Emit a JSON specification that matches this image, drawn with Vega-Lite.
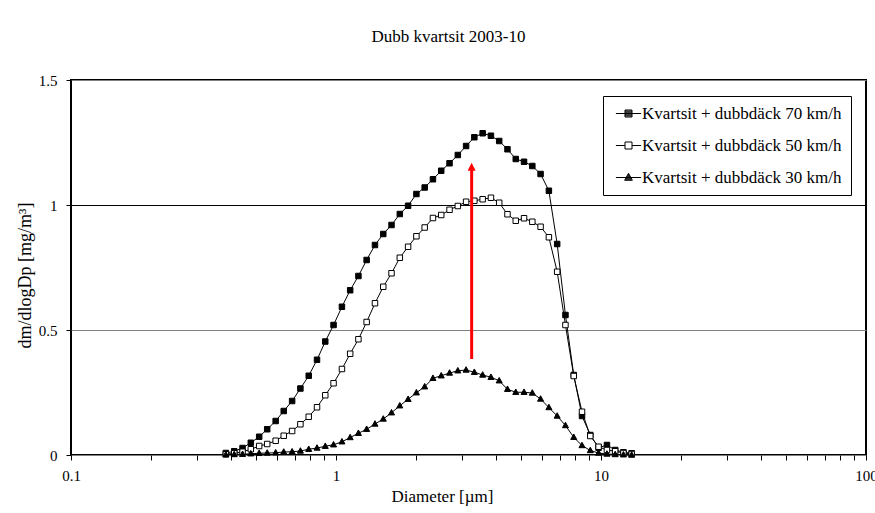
{
  "$schema": "https://vega.github.io/schema/vega-lite/v6.json",
  "width": 795,
  "height": 375,
  "autosize": {"type": "none"},
  "padding": {"left": 71, "top": 80, "right": 9, "bottom": 58},
  "background": "white",
  "title": {"text": "Dubb kvartsit 2003-10", "font": "Liberation Serif", "fontSize": 17, "fontWeight": "normal", "color": "#000", "offset": 27, "dx": -20},
  "config": {"view": {"stroke": "#000", "strokeWidth": 2}, "font": "Liberation Serif"},
  "datasets": {
    "curves": [
      {"d":0.384,"s":"Kvartsit + dubbdäck 70 km/h","v":0.008},
      {"d":0.413,"s":"Kvartsit + dubbdäck 70 km/h","v":0.015},
      {"d":0.444,"s":"Kvartsit + dubbdäck 70 km/h","v":0.028},
      {"d":0.477,"s":"Kvartsit + dubbdäck 70 km/h","v":0.049},
      {"d":0.513,"s":"Kvartsit + dubbdäck 70 km/h","v":0.073},
      {"d":0.550,"s":"Kvartsit + dubbdäck 70 km/h","v":0.103},
      {"d":0.592,"s":"Kvartsit + dubbdäck 70 km/h","v":0.136},
      {"d":0.635,"s":"Kvartsit + dubbdäck 70 km/h","v":0.176},
      {"d":0.683,"s":"Kvartsit + dubbdäck 70 km/h","v":0.216},
      {"d":0.734,"s":"Kvartsit + dubbdäck 70 km/h","v":0.266},
      {"d":0.789,"s":"Kvartsit + dubbdäck 70 km/h","v":0.317},
      {"d":0.848,"s":"Kvartsit + dubbdäck 70 km/h","v":0.381},
      {"d":0.911,"s":"Kvartsit + dubbdäck 70 km/h","v":0.454},
      {"d":0.979,"s":"Kvartsit + dubbdäck 70 km/h","v":0.520},
      {"d":1.053,"s":"Kvartsit + dubbdäck 70 km/h","v":0.593},
      {"d":1.131,"s":"Kvartsit + dubbdäck 70 km/h","v":0.659},
      {"d":1.215,"s":"Kvartsit + dubbdäck 70 km/h","v":0.716},
      {"d":1.305,"s":"Kvartsit + dubbdäck 70 km/h","v":0.780},
      {"d":1.403,"s":"Kvartsit + dubbdäck 70 km/h","v":0.840},
      {"d":1.508,"s":"Kvartsit + dubbdäck 70 km/h","v":0.884},
      {"d":1.620,"s":"Kvartsit + dubbdäck 70 km/h","v":0.920},
      {"d":1.741,"s":"Kvartsit + dubbdäck 70 km/h","v":0.964},
      {"d":1.871,"s":"Kvartsit + dubbdäck 70 km/h","v":0.997},
      {"d":2.011,"s":"Kvartsit + dubbdäck 70 km/h","v":1.044},
      {"d":2.161,"s":"Kvartsit + dubbdäck 70 km/h","v":1.070},
      {"d":2.322,"s":"Kvartsit + dubbdäck 70 km/h","v":1.103},
      {"d":2.495,"s":"Kvartsit + dubbdäck 70 km/h","v":1.137},
      {"d":2.682,"s":"Kvartsit + dubbdäck 70 km/h","v":1.167},
      {"d":2.882,"s":"Kvartsit + dubbdäck 70 km/h","v":1.200},
      {"d":3.097,"s":"Kvartsit + dubbdäck 70 km/h","v":1.236},
      {"d":3.327,"s":"Kvartsit + dubbdäck 70 km/h","v":1.271},
      {"d":3.576,"s":"Kvartsit + dubbdäck 70 km/h","v":1.287},
      {"d":3.843,"s":"Kvartsit + dubbdäck 70 km/h","v":1.277},
      {"d":4.129,"s":"Kvartsit + dubbdäck 70 km/h","v":1.256},
      {"d":4.437,"s":"Kvartsit + dubbdäck 70 km/h","v":1.223},
      {"d":4.768,"s":"Kvartsit + dubbdäck 70 km/h","v":1.184},
      {"d":5.124,"s":"Kvartsit + dubbdäck 70 km/h","v":1.173},
      {"d":5.506,"s":"Kvartsit + dubbdäck 70 km/h","v":1.156},
      {"d":5.916,"s":"Kvartsit + dubbdäck 70 km/h","v":1.124},
      {"d":6.358,"s":"Kvartsit + dubbdäck 70 km/h","v":1.057},
      {"d":6.833,"s":"Kvartsit + dubbdäck 70 km/h","v":0.844},
      {"d":7.343,"s":"Kvartsit + dubbdäck 70 km/h","v":0.560},
      {"d":7.891,"s":"Kvartsit + dubbdäck 70 km/h","v":0.320},
      {"d":8.479,"s":"Kvartsit + dubbdäck 70 km/h","v":0.156},
      {"d":9.112,"s":"Kvartsit + dubbdäck 70 km/h","v":0.080},
      {"d":9.792,"s":"Kvartsit + dubbdäck 70 km/h","v":0.029},
      {"d":10.53,"s":"Kvartsit + dubbdäck 70 km/h","v":0.040},
      {"d":11.31,"s":"Kvartsit + dubbdäck 70 km/h","v":0.020},
      {"d":12.15,"s":"Kvartsit + dubbdäck 70 km/h","v":0.011},
      {"d":13.05,"s":"Kvartsit + dubbdäck 70 km/h","v":0.007},
      {"d":0.384,"s":"Kvartsit + dubbdäck 50 km/h","v":0.003},
      {"d":0.413,"s":"Kvartsit + dubbdäck 50 km/h","v":0.007},
      {"d":0.444,"s":"Kvartsit + dubbdäck 50 km/h","v":0.013},
      {"d":0.477,"s":"Kvartsit + dubbdäck 50 km/h","v":0.023},
      {"d":0.513,"s":"Kvartsit + dubbdäck 50 km/h","v":0.036},
      {"d":0.550,"s":"Kvartsit + dubbdäck 50 km/h","v":0.044},
      {"d":0.592,"s":"Kvartsit + dubbdäck 50 km/h","v":0.057},
      {"d":0.635,"s":"Kvartsit + dubbdäck 50 km/h","v":0.077},
      {"d":0.683,"s":"Kvartsit + dubbdäck 50 km/h","v":0.096},
      {"d":0.734,"s":"Kvartsit + dubbdäck 50 km/h","v":0.123},
      {"d":0.789,"s":"Kvartsit + dubbdäck 50 km/h","v":0.153},
      {"d":0.848,"s":"Kvartsit + dubbdäck 50 km/h","v":0.191},
      {"d":0.911,"s":"Kvartsit + dubbdäck 50 km/h","v":0.239},
      {"d":0.979,"s":"Kvartsit + dubbdäck 50 km/h","v":0.287},
      {"d":1.053,"s":"Kvartsit + dubbdäck 50 km/h","v":0.344},
      {"d":1.131,"s":"Kvartsit + dubbdäck 50 km/h","v":0.405},
      {"d":1.215,"s":"Kvartsit + dubbdäck 50 km/h","v":0.463},
      {"d":1.305,"s":"Kvartsit + dubbdäck 50 km/h","v":0.532},
      {"d":1.403,"s":"Kvartsit + dubbdäck 50 km/h","v":0.607},
      {"d":1.508,"s":"Kvartsit + dubbdäck 50 km/h","v":0.673},
      {"d":1.620,"s":"Kvartsit + dubbdäck 50 km/h","v":0.727},
      {"d":1.741,"s":"Kvartsit + dubbdäck 50 km/h","v":0.789},
      {"d":1.871,"s":"Kvartsit + dubbdäck 50 km/h","v":0.833},
      {"d":2.011,"s":"Kvartsit + dubbdäck 50 km/h","v":0.875},
      {"d":2.161,"s":"Kvartsit + dubbdäck 50 km/h","v":0.910},
      {"d":2.322,"s":"Kvartsit + dubbdäck 50 km/h","v":0.948},
      {"d":2.495,"s":"Kvartsit + dubbdäck 50 km/h","v":0.960},
      {"d":2.682,"s":"Kvartsit + dubbdäck 50 km/h","v":0.981},
      {"d":2.882,"s":"Kvartsit + dubbdäck 50 km/h","v":0.996},
      {"d":3.097,"s":"Kvartsit + dubbdäck 50 km/h","v":1.013},
      {"d":3.327,"s":"Kvartsit + dubbdäck 50 km/h","v":1.017},
      {"d":3.576,"s":"Kvartsit + dubbdäck 50 km/h","v":1.023},
      {"d":3.843,"s":"Kvartsit + dubbdäck 50 km/h","v":1.029},
      {"d":4.129,"s":"Kvartsit + dubbdäck 50 km/h","v":1.009},
      {"d":4.437,"s":"Kvartsit + dubbdäck 50 km/h","v":0.963},
      {"d":4.768,"s":"Kvartsit + dubbdäck 50 km/h","v":0.937},
      {"d":5.124,"s":"Kvartsit + dubbdäck 50 km/h","v":0.947},
      {"d":5.506,"s":"Kvartsit + dubbdäck 50 km/h","v":0.933},
      {"d":5.916,"s":"Kvartsit + dubbdäck 50 km/h","v":0.913},
      {"d":6.358,"s":"Kvartsit + dubbdäck 50 km/h","v":0.871},
      {"d":6.833,"s":"Kvartsit + dubbdäck 50 km/h","v":0.733},
      {"d":7.343,"s":"Kvartsit + dubbdäck 50 km/h","v":0.520},
      {"d":7.891,"s":"Kvartsit + dubbdäck 50 km/h","v":0.316},
      {"d":8.479,"s":"Kvartsit + dubbdäck 50 km/h","v":0.173},
      {"d":9.112,"s":"Kvartsit + dubbdäck 50 km/h","v":0.076},
      {"d":9.792,"s":"Kvartsit + dubbdäck 50 km/h","v":0.033},
      {"d":10.53,"s":"Kvartsit + dubbdäck 50 km/h","v":0.020},
      {"d":11.31,"s":"Kvartsit + dubbdäck 50 km/h","v":0.015},
      {"d":12.15,"s":"Kvartsit + dubbdäck 50 km/h","v":0.008},
      {"d":13.05,"s":"Kvartsit + dubbdäck 50 km/h","v":0.004},
      {"d":0.384,"s":"Kvartsit + dubbdäck 30 km/h","v":0.001},
      {"d":0.413,"s":"Kvartsit + dubbdäck 30 km/h","v":0.002},
      {"d":0.444,"s":"Kvartsit + dubbdäck 30 km/h","v":0.003},
      {"d":0.477,"s":"Kvartsit + dubbdäck 30 km/h","v":0.005},
      {"d":0.513,"s":"Kvartsit + dubbdäck 30 km/h","v":0.007},
      {"d":0.550,"s":"Kvartsit + dubbdäck 30 km/h","v":0.008},
      {"d":0.592,"s":"Kvartsit + dubbdäck 30 km/h","v":0.009},
      {"d":0.635,"s":"Kvartsit + dubbdäck 30 km/h","v":0.012},
      {"d":0.683,"s":"Kvartsit + dubbdäck 30 km/h","v":0.013},
      {"d":0.734,"s":"Kvartsit + dubbdäck 30 km/h","v":0.016},
      {"d":0.789,"s":"Kvartsit + dubbdäck 30 km/h","v":0.023},
      {"d":0.848,"s":"Kvartsit + dubbdäck 30 km/h","v":0.028},
      {"d":0.911,"s":"Kvartsit + dubbdäck 30 km/h","v":0.035},
      {"d":0.979,"s":"Kvartsit + dubbdäck 30 km/h","v":0.041},
      {"d":1.053,"s":"Kvartsit + dubbdäck 30 km/h","v":0.053},
      {"d":1.131,"s":"Kvartsit + dubbdäck 30 km/h","v":0.070},
      {"d":1.215,"s":"Kvartsit + dubbdäck 30 km/h","v":0.087},
      {"d":1.305,"s":"Kvartsit + dubbdäck 30 km/h","v":0.103},
      {"d":1.403,"s":"Kvartsit + dubbdäck 30 km/h","v":0.124},
      {"d":1.508,"s":"Kvartsit + dubbdäck 30 km/h","v":0.144},
      {"d":1.620,"s":"Kvartsit + dubbdäck 30 km/h","v":0.169},
      {"d":1.741,"s":"Kvartsit + dubbdäck 30 km/h","v":0.197},
      {"d":1.871,"s":"Kvartsit + dubbdäck 30 km/h","v":0.223},
      {"d":2.011,"s":"Kvartsit + dubbdäck 30 km/h","v":0.249},
      {"d":2.161,"s":"Kvartsit + dubbdäck 30 km/h","v":0.273},
      {"d":2.322,"s":"Kvartsit + dubbdäck 30 km/h","v":0.307},
      {"d":2.495,"s":"Kvartsit + dubbdäck 30 km/h","v":0.317},
      {"d":2.682,"s":"Kvartsit + dubbdäck 30 km/h","v":0.328},
      {"d":2.882,"s":"Kvartsit + dubbdäck 30 km/h","v":0.337},
      {"d":3.097,"s":"Kvartsit + dubbdäck 30 km/h","v":0.340},
      {"d":3.327,"s":"Kvartsit + dubbdäck 30 km/h","v":0.331},
      {"d":3.576,"s":"Kvartsit + dubbdäck 30 km/h","v":0.320},
      {"d":3.843,"s":"Kvartsit + dubbdäck 30 km/h","v":0.311},
      {"d":4.129,"s":"Kvartsit + dubbdäck 30 km/h","v":0.297},
      {"d":4.437,"s":"Kvartsit + dubbdäck 30 km/h","v":0.263},
      {"d":4.768,"s":"Kvartsit + dubbdäck 30 km/h","v":0.251},
      {"d":5.124,"s":"Kvartsit + dubbdäck 30 km/h","v":0.251},
      {"d":5.506,"s":"Kvartsit + dubbdäck 30 km/h","v":0.248},
      {"d":5.916,"s":"Kvartsit + dubbdäck 30 km/h","v":0.224},
      {"d":6.358,"s":"Kvartsit + dubbdäck 30 km/h","v":0.190},
      {"d":6.833,"s":"Kvartsit + dubbdäck 30 km/h","v":0.156},
      {"d":7.343,"s":"Kvartsit + dubbdäck 30 km/h","v":0.118},
      {"d":7.891,"s":"Kvartsit + dubbdäck 30 km/h","v":0.071},
      {"d":8.479,"s":"Kvartsit + dubbdäck 30 km/h","v":0.038},
      {"d":9.112,"s":"Kvartsit + dubbdäck 30 km/h","v":0.018},
      {"d":9.792,"s":"Kvartsit + dubbdäck 30 km/h","v":0.008},
      {"d":10.53,"s":"Kvartsit + dubbdäck 30 km/h","v":0.004},
      {"d":11.31,"s":"Kvartsit + dubbdäck 30 km/h","v":0.002},
      {"d":12.15,"s":"Kvartsit + dubbdäck 30 km/h","v":0.001},
      {"d":13.05,"s":"Kvartsit + dubbdäck 30 km/h","v":0.000}
    ],
    "arrow": [{"d": 3.25, "v": 0.384, "v2": 1.14}],
    "head": [{"d": 3.25, "v": 1.153}]
  },
  "encoding": {
    "x": {
      "field": "d", "type": "quantitative",
      "scale": {"type": "log", "domain": [0.1, 100], "nice": false},
      "axis": {
        "title": "Diameter [µm]",
        "values": [0.1,0.2,0.3,0.4,0.5,0.6,0.7,0.8,0.9,1,2,3,4,5,6,7,8,9,10,20,30,40,50,60,70,80,90,100],
        "format": "~g",
        "labelExpr": "(datum.value == 0.1 || datum.value == 1 || datum.value == 10 || datum.value == 100) ? datum.label : ''",
        "grid": false, "domain": false,
        "tickColor": "#000", "tickSize": 5, "tickWidth": 1,
        "labelFont": "Liberation Serif", "labelFontSize": 15, "labelColor": "#000", "labelPadding": 8,
        "labelFlush": false, "labelOverlap": false,
        "titleFont": "Liberation Serif", "titleFontSize": 17, "titleFontWeight": "normal", "titleColor": "#000",
        "titleX": 371, "titlePadding": 5
      }
    },
    "y": {
      "field": "v", "type": "quantitative",
      "scale": {"domain": [0, 1.5], "nice": false},
      "axis": {
        "title": "dm/dlogDp [mg/m³]",
        "values": [0, 0.5, 1, 1.5],
        "format": "~g",
        "grid": true,
        "gridColor": {"condition": {"test": "datum.value == 1", "value": "#000"}, "value": "#808080"},
        "gridWidth": 1,
        "domain": false,
        "tickColor": "#000", "tickSize": 5, "tickWidth": 1,
        "labelFont": "Liberation Serif", "labelFontSize": 15, "labelColor": "#000", "labelPadding": 9,
        "titleFont": "Liberation Serif", "titleFontSize": 18, "titleFontWeight": "normal", "titleColor": "#000",
        "titlePadding": 4, "titleY": 195
      }
    }
  },
  "layer": [
    {
      "data": {"name": "curves"},
      "mark": {"type": "line", "color": "#000", "strokeWidth": 1},
      "encoding": {"detail": {"field": "s"}}
    },
    {
      "data": {"name": "curves"},
      "mark": {"type": "point", "filled": true, "stroke": "#000", "strokeWidth": 1, "size": 30, "opacity": 1},
      "encoding": {
        "shape": {"field": "s", "type": "nominal",
          "scale": {"domain": ["Kvartsit + dubbdäck 70 km/h", "Kvartsit + dubbdäck 50 km/h", "Kvartsit + dubbdäck 30 km/h"],
                    "range": ["M-1,-1H1V1H-1Z", "M-1,-1H1V1H-1Z", "M0,-1.2L1.1,0.8H-1.1Z"]},
          "legend": null},
        "fill": {"field": "s", "type": "nominal",
          "scale": {"domain": ["Kvartsit + dubbdäck 70 km/h", "Kvartsit + dubbdäck 50 km/h", "Kvartsit + dubbdäck 30 km/h"],
                    "range": ["#000", "#fff", "#000"]},
          "legend": null}
      }
    },
    {
      "data": {"name": "curves"},
      "transform": [{"filter": "false"}],
      "mark": {"type": "point", "filled": false, "color": "#000", "strokeWidth": 1, "size": 49, "opacity": 1},
      "encoding": {
        "shape": {"field": "s", "type": "nominal",
          "scale": {"domain": ["Kvartsit + dubbdäck 70 km/h", "Kvartsit + dubbdäck 50 km/h", "Kvartsit + dubbdäck 30 km/h"],
                    "range": [
                      "M-3.6,0H3.6M-1,-1H1V1H-1ZM-1,-0.71H1M-1,-0.43H1M-1,-0.14H1M-1,0.14H1M-1,0.43H1M-1,0.71H1",
                      "M-3.6,0H-1M1,0H3.6M-1,-1H1V1H-1Z",
                      "M-3.6,0H3.6M0,-1.2L1.1,0.8H-1.1ZM-0.16,-0.91H0.16M-0.31,-0.63H0.31M-0.47,-0.34H0.47M-0.63,-0.06H0.63M-0.79,0.23H0.79M-0.94,0.51H0.94"
                    ]},
          "legend": {"title": null, "orient": "none", "legendX": 532, "legendY": 16, "strokeColor": "#000", "fillColor": "#fff",
            "padding": 9, "labelFont": "Liberation Serif", "labelFontSize": 17, "labelColor": "#000", "labelLimit": 400,
            "symbolSize": 49, "symbolOffset": 8, "labelOffset": 5, "rowPadding": 14, "symbolStrokeWidth": 1}}
      }
    },
    {
      "data": {"name": "arrow"},
      "mark": {"type": "rule", "color": "#ff0000", "strokeWidth": 3},
      "encoding": {"y2": {"field": "v2"}}
    },
    {
      "data": {"name": "head"},
      "mark": {"type": "point", "shape": "M-1,1L0,-1L1,1Z", "filled": true, "color": "#ff0000", "size": 64, "opacity": 1},
      "encoding": {}
    }
  ],
  "resolve": {"scale": {"shape": "independent"}}
}
